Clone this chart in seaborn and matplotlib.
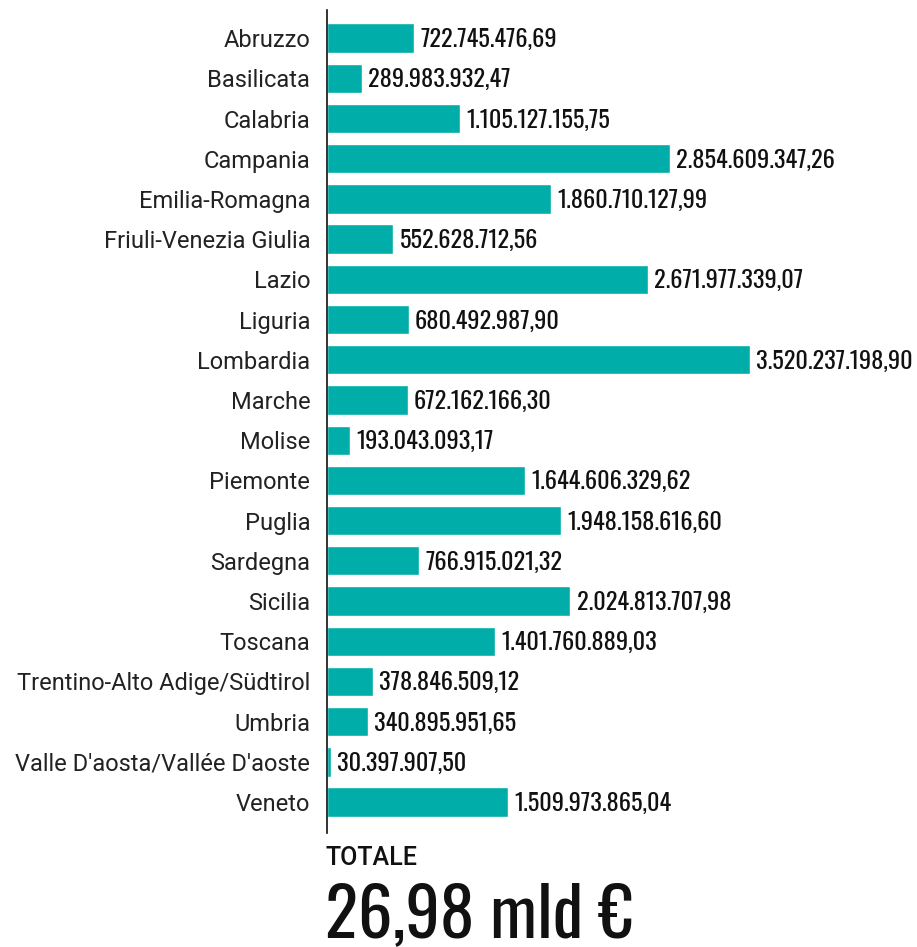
import matplotlib
matplotlib.use('Agg')
import matplotlib.pyplot as plt
from matplotlib import font_manager
import seaborn as sns
import pandas as pd

regions = ["Abruzzo", "Basilicata", "Calabria", "Campania", "Emilia-Romagna",
           "Friuli-Venezia Giulia", "Lazio", "Liguria", "Lombardia", "Marche",
           "Molise", "Piemonte", "Puglia", "Sardegna", "Sicilia", "Toscana",
           "Trentino-Alto Adige/Südtirol", "Umbria",
           "Valle D'aosta/Vallée D'aoste", "Veneto"]
values = [722745476.69, 289983932.47, 1105127155.75, 2854609347.26,
          1860710127.99, 552628712.56, 2671977339.07, 680492987.90,
          3520237198.90, 672162166.30, 193043093.17, 1644606329.62,
          1948158616.60, 766915021.32, 2024813707.98, 1401760889.03,
          378846509.12, 340895951.65, 30397907.50, 1509973865.04]
total_label = "26,98 mld €"

df = pd.DataFrame({"region": regions, "value": values})

# condensed face for the numbers
installed = {f.name for f in font_manager.fontManager.ttflist}
narrow = "DejaVu Sans"
for cand in ["Oswald", "Roboto Condensed"]:
    if cand in installed:
        narrow = cand
        break

sns.set_style("white")
plt.rcParams['font.family'] = ['Roboto', 'DejaVu Sans']

fig = plt.figure(figsize=(9.17, 9.47), dpi=100)
ax = fig.add_axes([327 / 917, 1 - 833 / 947, 1 - 327 / 917, 823 / 947])

sns.barplot(data=df, x="value", y="region", color="#00ADA9", saturation=1,
            width=0.73, ax=ax)

ax.set_xlim(0, 3520237198.90 * 590 / 423)
ax.set_ylim(19.77, -0.7)
ax.set_xlabel("")
ax.set_ylabel("")
ax.set_xticks([])
ax.tick_params(axis="y", length=0, pad=12, labelsize=17, labelcolor="#222222")
for s in ["top", "right", "bottom"]:
    ax.spines[s].set_visible(False)
ax.spines["left"].set_color("#111111")
ax.spines["left"].set_linewidth(1.2)

def fmt(v):
    s = f"{v:,.2f}"
    return s.replace(",", "X").replace(".", ",").replace("X", ".")

for i, v in enumerate(values):
    ax.annotate(fmt(v), (v, i), xytext=(4.5, -1), textcoords="offset points",
                va="center", ha="left", fontsize=17.5, family=narrow,
                color="#111111")

fig.text(326 / 917, 1 - 858 / 947, "TOTALE", fontsize=18, fontweight="medium",
         va="center", ha="left", color="#111111")
fig.text(325 / 917, 1 - 937 / 947, total_label, fontsize=49.5, va="baseline",
         ha="left", family=narrow, color="#111111")

plt.savefig("out.png", dpi=100)
plt.close()
